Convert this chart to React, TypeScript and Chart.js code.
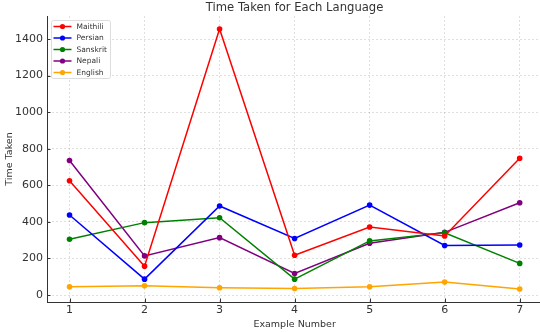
import React, { useEffect, useRef } from "react";
import { Chart, registerables } from "chart.js";

Chart.register(...registerables);

const exampleNumbers = [1, 2, 3, 4, 5, 6, 7];
const maithili = [625, 158, 1455, 218, 372, 323, 748];
const persian = [438, 87, 487, 309, 492, 271, 274];
const sanskrit = [305, 396, 423, 87, 296, 340, 173];
const nepali = [736, 214, 314, 118, 283, 343, 505];
const english = [45, 51, 40, 36, 45, 71, 33];
const yTicks = [0, 200, 400, 600, 800, 1000, 1200, 1400];

const seriesNames = ["Maithili", "Persian", "Sanskrit", "Nepali", "English"];
const seriesValues = [maithili, persian, sanskrit, nepali, english];
const seriesColors = ["#ff0000", "#0000ff", "#008000", "#800080", "#ffa500"];

const FONT = "DejaVu Sans";
const TEXT = "#333333";

const decorPlugin = {
  id: "decor",
  afterDraw(chart: any) {
    const { ctx, chartArea } = chart;
    const xs = chart.scales.x;
    const ys = chart.scales.y;
    ctx.save();
    // inward ticks
    ctx.strokeStyle = "#333333";
    ctx.lineWidth = 1;
    ctx.beginPath();
    for (const v of exampleNumbers) {
      const px = Math.round(xs.getPixelForValue(v)) + 0.5;
      ctx.moveTo(px, chartArea.bottom);
      ctx.lineTo(px, chartArea.bottom - 3.5);
    }
    for (const v of yTicks) {
      const py = Math.round(ys.getPixelForValue(v)) + 0.5;
      ctx.moveTo(chartArea.left, py);
      ctx.lineTo(chartArea.left + 3.5, py);
    }
    ctx.stroke();

    // title
    ctx.fillStyle = TEXT;
    ctx.font = `11.6px "${FONT}"`;
    ctx.textAlign = "center";
    ctx.textBaseline = "middle";
    ctx.fillText("Time Taken for Each Language", (chartArea.left + chartArea.right) / 2, 7.5);

    // legend
    const bx = chartArea.left + 4.5;
    const by = chartArea.top + 4.5;
    const bw = 59;
    const bh = 58;
    ctx.fillStyle = "rgba(255,255,255,0.85)";
    ctx.strokeStyle = "#dddddd";
    ctx.lineWidth = 1;
    ctx.beginPath();
    const r = 2;
    ctx.moveTo(bx + r, by);
    ctx.lineTo(bx + bw - r, by);
    ctx.quadraticCurveTo(bx + bw, by, bx + bw, by + r);
    ctx.lineTo(bx + bw, by + bh - r);
    ctx.quadraticCurveTo(bx + bw, by + bh, bx + bw - r, by + bh);
    ctx.lineTo(bx + r, by + bh);
    ctx.quadraticCurveTo(bx, by + bh, bx, by + bh - r);
    ctx.lineTo(bx, by + r);
    ctx.quadraticCurveTo(bx, by, bx + r, by);
    ctx.closePath();
    ctx.fill();
    ctx.stroke();
    ctx.font = `7.5px "${FONT}"`;
    ctx.textAlign = "left";
    chart.data.datasets.forEach((ds: any, i: number) => {
      const y = by + 6 + i * 11.5;
      ctx.strokeStyle = ds.borderColor;
      ctx.lineWidth = 1.5;
      ctx.beginPath();
      ctx.moveTo(bx + 2, y);
      ctx.lineTo(bx + 20, y);
      ctx.stroke();
      ctx.fillStyle = ds.borderColor;
      ctx.beginPath();
      ctx.arc(bx + 11, y, 2.6, 0, Math.PI * 2);
      ctx.fill();
      ctx.fillStyle = TEXT;
      ctx.fillText(ds.label, bx + 25, y + 0.5);
    });
    ctx.restore();
  },
};

export default function App() {
  const ref = useRef<HTMLCanvasElement | null>(null);
  useEffect(() => {
    if (!ref.current) return;
    const chart = new Chart(ref.current, {
      type: "line",
      data: {
        datasets: seriesNames.map((name, i) => ({
          label: name,
          data: exampleNumbers.map((x, j) => ({ x, y: seriesValues[i][j] })),
          borderColor: seriesColors[i],
          backgroundColor: seriesColors[i],
          borderWidth: 1.5,
          pointRadius: 2.8,
          pointHoverRadius: 2.8,
          pointBorderWidth: 0,
          tension: 0,
        })),
      },
      options: {
        responsive: false,
        animation: false,
        events: [],
        layout: { padding: { top: 16, right: 0, left: 0, bottom: 0 } },
        plugins: {
          legend: { display: false },
          title: { display: false },
          tooltip: { enabled: false },
        },
        scales: {
          x: {
            type: "linear",
            min: 0.7,
            max: 7.3,
            afterBuildTicks: (s: any) => {
              s.ticks = exampleNumbers.map((v) => ({ value: v }));
            },
            afterFit: (s: any) => {
              s.height = 30;
            },
            ticks: {
              color: TEXT,
              font: { family: FONT, size: 11 },
              padding: 2,
              maxRotation: 0,
              callback: (v: any) => String(v),
            },
            grid: {
              color: "rgba(0,0,0,0.16)",
              lineWidth: 0.8,
              drawTicks: false,
            },
            border: { display: true, color: "#333333", width: 1, dash: [2, 2] },
            title: {
              display: true,
              text: "Example Number",
              color: TEXT,
              font: { family: FONT, size: 9.5 },
              padding: { top: 0, bottom: 2 },
            },
          },
          y: {
            type: "linear",
            min: -38,
            max: 1526,
            afterBuildTicks: (s: any) => {
              s.ticks = yTicks.map((v) => ({ value: v }));
            },
            afterFit: (s: any) => {
              s.width = 47;
            },
            ticks: {
              color: TEXT,
              font: { family: FONT, size: 11 },
              padding: 4,
              callback: (v: any) => String(v),
            },
            grid: {
              color: "rgba(0,0,0,0.16)",
              lineWidth: 0.8,
              drawTicks: false,
            },
            border: { display: true, color: "#333333", width: 1, dash: [2, 2] },
            title: {
              display: true,
              text: "Time Taken",
              color: TEXT,
              font: { family: FONT, size: 9.5 },
              padding: { top: 4, bottom: 0 },
            },
          },
        },
      },
      plugins: [decorPlugin],
    } as any);
    return () => chart.destroy();
  }, []);
  return (
    <div style={{ position: "absolute", left: 0, top: 0, width: 540, height: 332, overflow: "hidden", background: "#fff" }}>
      <canvas ref={ref} width={545} height={332} style={{ display: "block" }} />
    </div>
  );
}
